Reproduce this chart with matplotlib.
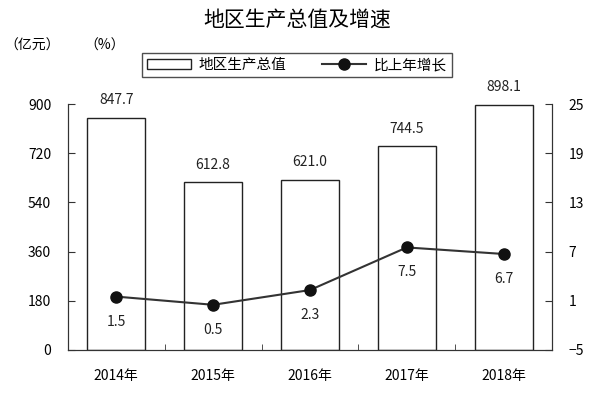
import matplotlib
matplotlib.use("Agg")
import matplotlib.pyplot as plt
from matplotlib.ticker import FixedLocator

plt.rcParams['font.family'] = ['Noto Sans CJK SC', 'DejaVu Sans']

years = ["2014年", "2015年", "2016年", "2017年", "2018年"]
gdp = [847.7, 612.8, 621.0, 744.5, 898.1]
growth = [1.5, 0.5, 2.3, 7.5, 6.7]
left_ticks = [0, 180, 360, 540, 720, 900]
right_ticks = [-5, 1, 7, 13, 19, 25]

fig = plt.figure(figsize=(6.06, 3.94), dpi=100)
ax = fig.add_axes([0.112, 0.112, 0.799, 0.624])
x = list(range(len(years)))

bars = ax.bar(x, gdp, width=0.6, facecolor='white', edgecolor='#222222', linewidth=1.0,
              label='地区生产总值', zorder=2)
ax.set_xlim(-0.5, len(years) - 0.5)
ax.set_ylim(0, 900)
ax.set_yticks(left_ticks)
ax.set_xticks(x)
ax.set_xticklabels(years, fontsize=10)
ax.xaxis.set_minor_locator(FixedLocator([i + 0.5 for i in range(len(years) - 1)]))
ax.tick_params(axis='x', which='major', length=0, pad=14)
ax.tick_params(axis='x', which='minor', direction='in', length=4, color='#333333')
ax.tick_params(axis='y', direction='in', length=5, labelsize=10, pad=12, color='#333333')
ax.spines['top'].set_visible(False)
for s in ['left', 'bottom', 'right']:
    ax.spines[s].set_color('#333333')

for xi, v in zip(x, gdp):
    ax.text(xi, v + 40, f"{v:.1f}", ha='center', va='bottom', fontsize=10, color='#222222')

ax2 = ax.twinx()
ax2.set_ylim(-5, 25)
ax2.set_yticks(right_ticks)
ax2.tick_params(axis='y', direction='in', length=5, labelsize=10, pad=12, color='#333333')
ax2.spines['top'].set_visible(False)
for s in ['left', 'bottom', 'right']:
    ax2.spines[s].set_color('#333333')
line, = ax2.plot(x, growth, color='#333333', linewidth=1.5, marker='o', markersize=8,
                 markerfacecolor='#111111', markeredgecolor='#111111', label='比上年增长', zorder=3)
for xi, v in zip(x, growth):
    ax2.text(xi, v - 2.2, f"{v:.1f}", ha='center', va='top', fontsize=10, color='#222222')

fig.text(0.49, 0.95, '地区生产总值及增速', ha='center', va='center', fontsize=15)
fig.text(0.008, 0.885, '（亿元）', ha='left', va='center', fontsize=10)
fig.text(0.14, 0.885, '（%）', ha='left', va='center', fontsize=10)

leg = fig.legend(handles=[bars, line], loc='center', bbox_to_anchor=(0.49, 0.835), ncol=2,
                 fontsize=10.5, frameon=True, fancybox=False, edgecolor='#222222',
                 handlelength=3, columnspacing=2.5, borderpad=0.35, handletextpad=0.5)
leg.get_frame().set_linewidth(1.0)

fig.savefig('out.png', dpi=100)
